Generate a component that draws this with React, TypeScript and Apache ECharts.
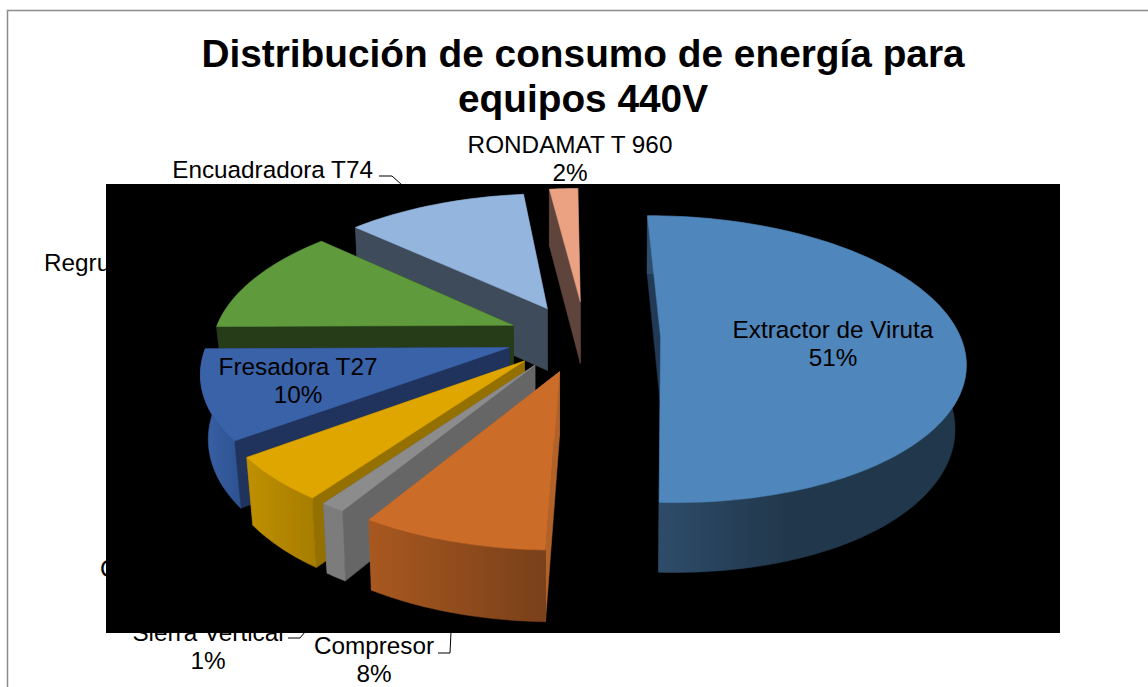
import React, { useEffect, useRef } from "react";
import * as echarts from "echarts";

const titleLines = ["Distribución de consumo de energía para", "equipos 440V"];
// Names as far as they can be read: two labels are cut off by the black plot area.
const categories = ["Extractor de Viruta", "Compresor", "Sierra Vertical", "C", "Fresadora T27", "Regru", "Encuadradora T74", "RONDAMAT T 960"];
const shares = [50.6, 8.3, 1.1, 5, 10, 12, 11.4, 1.6];

const topColors = ["#4F86BB", "#CC6C29", "#8C8C8C", "#E0A600", "#3A62A8", "#5F9A3C", "#94B5DE", "#EBA283"];
const cutColors = ["#213A55", "#B0622A", "#666666", "#947000", "#1F335D", "#263B18", "#3D4B5A", "#5E443A"];
const rimLeft = ["#2F4D6C", "#A8581F", "#7C7C7C", "#BF8F00", "#3A62A8", "#263B18", "#3D4B5A", "#5E443A"];
const rimRight = ["#21374B", "#79401A", "#7C7C7C", "#A67D00", "#2E5290", "#263B18", "#3D4B5A", "#5E443A"];
const rimStop = [0.45, 1, 1, 1, 1, 1, 1, 1];
const explode = [0.275, 0.25, 0.234, 0.234, 0.234, 0.234, 0.234, 0.262];
const nudgeX = [0, 0.012, -0.01, -0.01, -0.005, 0, 0, 0.025];
const startTweakDeg = [0, 0, 0, 0, 0, 0, 0, -0.7];
const endTweakDeg = [0.94, 0, 0, 0, 0, 0, 0, 0];
const paintOrder = [0, 7, 6, 5, 4, 3, 2, 1];

const X0 = 578, Y0 = 337, RX = 300, RY = 140, P = 0.15;
const START_DEG = -0.5;

function project(wx: number, wv: number): [number, number, number] {
  const s = 1 / (1 - P * wv);
  return [X0 + RX * wx * s, Y0 + RY * wv * s, s];
}
function lower(wx: number, wv: number): [number, number] {
  const [x, y, s] = project(wx, wv);
  const d = x - X0;
  const shift = d > 0 ? d * d * 7.5e-5 : -d * d * 5.5e-5;
  return [x - shift, y + 25 + 38 * s];
}

function renderSlice(_params: any, api: any) {
  const i = api.value(1) as number;
  const total = shares.reduce((a, b) => a + b, 0);
  const before = shares.slice(0, i).reduce((a, b) => a + b, 0);
  const a0 = (START_DEG + startTweakDeg[i] + (before / total) * 360) * Math.PI / 180;
  const a1 = (START_DEG + endTweakDeg[i] + ((before + api.value(0)) / total) * 360) * Math.PI / 180;
  const mid = (a0 + a1) / 2;
  const ax = explode[i] * Math.sin(mid) + nudgeX[i];
  const av = -explode[i] * Math.cos(mid);
  const n = Math.max(6, Math.ceil((a1 - a0) / 0.03));
  const wts: [number, number][] = [];
  for (let k = 0; k <= n; k++) {
    const a = a0 + ((a1 - a0) * k) / n;
    wts.push([ax + Math.sin(a), av - Math.cos(a)]);
  }
  const topRim = wts.map(([x, v]) => project(x, v).slice(0, 2));
  const lowRim = wts.map(([x, v]) => lower(x, v));
  const apexTop = project(ax, av).slice(0, 2);
  const apexLow = lower(ax, av);
  const z = paintOrder[i] * 10;
  const poly = (points: any[], fill: any, z2: number) => ({
    type: "polygon",
    shape: { points },
    style: { fill, stroke: fill, lineWidth: 0.5 },
    z2,
  });
  const rimFill = new echarts.graphic.LinearGradient(0, 0, 1, 0, [
    { offset: 0, color: rimLeft[i] },
    { offset: rimStop[i], color: rimRight[i] },
    { offset: 1, color: rimRight[i] },
  ]);
  return {
    type: "group",
    children: [
      poly([apexTop, topRim[0], lowRim[0], apexLow], cutColors[i], z + 1),
      poly([apexTop, topRim[n], lowRim[n], apexLow], cutColors[i], z + 1),
      poly([...topRim, ...[...lowRim].reverse()], rimFill, z + 2),
      poly([apexTop, ...topRim], topColors[i], z + 3),
    ],
  };
}

const FONT = '24.3px "Liberation Sans", Arial, sans-serif';
const TITLE_FONT = 'bold 38.8px "Liberation Sans", Arial, sans-serif';
const label = (text: string, x: number, y: number, align: string, z: number) => ({
  type: "text",
  x,
  y,
  z,
  style: { text, fill: "#000", font: FONT, textAlign: align, textVerticalAlign: "middle" },
});
const leader = (points: number[][]) => ({
  type: "polyline",
  z: 1,
  shape: { points },
  style: { stroke: "#000", lineWidth: 1, fill: "none" },
});
const pct = (i: number) => `${Math.round(shares[i])}%`;

export default function App() {
  const ref = useRef<HTMLDivElement>(null);
  useEffect(() => {
    const chart = echarts.init(ref.current!, undefined, { renderer: "svg" });
    chart.setOption({
      animation: false,
      backgroundColor: "#ffffff",
      graphic: {
        elements: [
          { type: "polyline", z: 0, shape: { points: [[7.5, 687], [7.5, 10.5], [1148, 10.5]] }, style: { stroke: "#8C8C8C", lineWidth: 1.5, fill: "none" } },
          { type: "text", x: 583, y: 53, z: 1, style: { text: titleLines[0], fill: "#000", font: TITLE_FONT, textAlign: "center", textVerticalAlign: "middle" } },
          { type: "text", x: 583, y: 98, z: 1, style: { text: titleLines[1], fill: "#000", font: TITLE_FONT, textAlign: "center", textVerticalAlign: "middle" } },
          label(categories[7], 570, 144, "center", 1),
          label(pct(7), 570, 172, "center", 1),
          label(categories[6], 373, 169, "right", 1),
          label(categories[5], 44, 262, "left", 1),
          label(categories[3], 100, 568, "left", 1),
          label(categories[2], 208, 632, "center", 1),
          label(pct(2), 208, 660, "center", 1),
          label(categories[1], 374, 645, "center", 1),
          label(pct(1), 374, 673, "center", 1),
          leader([[379, 176], [392, 176], [402, 185]]),
          leader([[288, 638], [300, 638], [305, 632]]),
          leader([[438, 653], [450, 653], [451, 632]]),
          { type: "rect", z: 2, shape: { x: 106, y: 184, width: 954, height: 449 }, style: { fill: "#000" } },
          label(categories[0], 833, 329, "center", 20),
          label(pct(0), 833, 357, "center", 20),
          label(categories[4], 298, 366, "center", 20),
          label(pct(4), 298, 394, "center", 20),
        ],
      },
      series: [
        {
          type: "custom",
          coordinateSystem: "none",
          z: 5,
          silent: true,
          renderItem: renderSlice,
          data: shares.map((v, i) => [v, i]),
          encode: { value: 0 },
        },
      ],
    });
    return () => chart.dispose();
  }, []);
  return <div ref={ref} style={{ position: "fixed", left: 0, top: 0, width: 1148, height: 687 }} />;
}
